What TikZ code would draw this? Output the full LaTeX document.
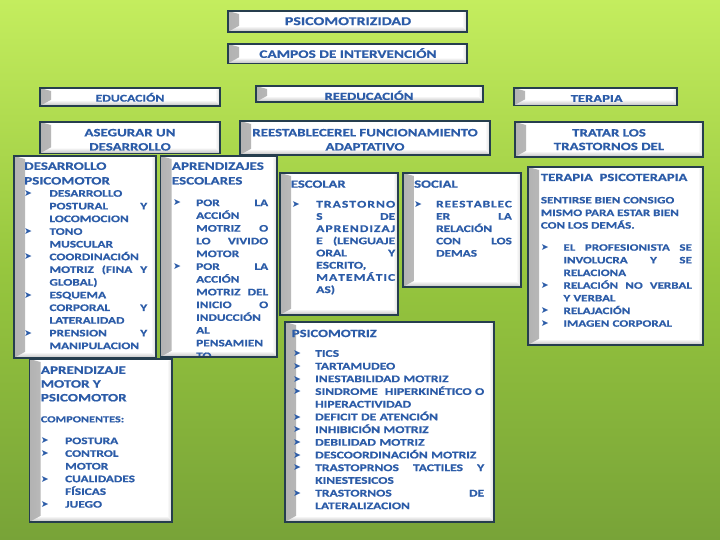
\documentclass[tikz,border=0pt]{standalone}
\usepackage{fontspec}
\newfontfamily\cfont{Carlito}[FakeStretch=1.33, BoldFeatures={FakeBold=0.8}]
\newfontfamily\dvfont{DejaVu Sans}
\definecolor{txt}{RGB}{44,92,168}
\definecolor{bdr}{RGB}{38,62,78}
\definecolor{bgtop}{RGB}{196,237,94}
\definecolor{bgmid}{RGB}{150,198,62}
\definecolor{bgbot}{RGB}{120,163,56}
\newlength{\bw}
\newcommand{\bul}{\makebox[\bw][l]{\raisebox{0.2pt}{\dvfont\fontsize{9.5}{9.5}\selectfont\char"27A4}}}
\newcommand{\ind}{\hspace*{\bw}}
\newcommand{\fl}{\rule{0pt}{1em}}
\newcommand{\lf}[2]{\cfont\bfseries\fontsize{#1}{#2}\selectfont}
\tikzset{
  bbox/.style={draw=bdr, line width=1.2pt, fill=white, inner sep=0pt,
    path picture={
      \shade[left color=black!30, right color=white]
        (path picture bounding box.south west) -- (path picture bounding box.north west)
        -- ([shift={(11pt,-3pt)}]path picture bounding box.north west)
        -- ([shift={(11pt,3pt)}]path picture bounding box.south west) -- cycle;
      \shade[right color=black!14, left color=white]
        (path picture bounding box.south east) -- (path picture bounding box.north east)
        -- ([shift={(-5pt,-3pt)}]path picture bounding box.north east)
        -- ([shift={(-5pt,6pt)}]path picture bounding box.south east) -- cycle;
      \shade[bottom color=black!25, top color=white]
        (path picture bounding box.south west) -- (path picture bounding box.south east)
        -- ([shift={(-5pt,6pt)}]path picture bounding box.south east)
        -- ([shift={(11pt,6pt)}]path picture bounding box.south west) -- cycle;
    }},
  tnode/.style={inner sep=0pt, text=txt},
  mtext/.style={tnode, anchor=north west, align=left},
}
\newcommand{\bx}[6]{\node[bbox, minimum width={(#5-#3)*1pt}, minimum height={(#6-#4)*1pt}] (#2) at ({(#3+#5)/2},{(#4+#6)/2}) {};}
\begin{document}
\begin{tikzpicture}[x=1pt,y=-1pt]
\useasboundingbox (0,0) rectangle (720,540);
\shade[top color=bgtop, bottom color=bgbot, middle color=bgmid] (0,0) rectangle (720,540);

% top row
\bx{}{psico}{228}{11}{467}{32}
\node[tnode, anchor=base, font=\lf{12}{12}] (psicoT) at (348,25.1) {PSICOMOTRIZIDAD};
\bx{}{campos}{228}{44}{467}{63.5}
\node[tnode, anchor=base, font=\lf{11.5}{11.5}] (camposT) at (348,57.9) {CAMPOS DE INTERVENCIÓN};

\bx{}{educ}{40}{88}{220}{106}
\node[tnode, anchor=base, font=\lf{10.3}{10.3}] (educT) at (130,101.6) {EDUCACIÓN};
\bx{}{reed}{256}{86}{483}{102}
\begin{scope}
\clip (257,87) rectangle (482,99.6);
\node[tnode, anchor=base, font=\lf{11}{11}] (reedT) at (369,100) {REEDUCACIÓN};
\end{scope}
\bx{}{ter}{514}{88}{677}{105.5}
\begin{scope}
\clip (515,89) rectangle (676,101.5);
\node[tnode, anchor=base, font=\lf{11}{11}] (terT) at (596.7,102.2) {TERAPIA};
\end{scope}

\bx{}{aseg}{40}{122}{220}{153.5}
\node[tnode, anchor=north, align=center, font=\lf{11.2}{14.2}] (asegT) at (130,124.9) {\fl ASEGURAR UN\\DESARROLLO};
\bx{}{reest}{240}{121}{490}{155}
\node[tnode, anchor=north, align=center, font=\lf{11.2}{14.2}] (reestT) at (365,124.9) {\fl REESTABLECEREL FUNCIONAMIENTO\\ADAPTATIVO};
\bx{}{trat}{515}{122}{703}{157}
\node[tnode, anchor=north, align=center, font=\lf{11.2}{13.6}] (tratT) at (609,125.1) {\fl TRATAR LOS\\TRASTORNOS DEL};

% DESARROLLO PSICOMOTOR
\bx{}{desa}{14}{156}{156}{358}
\node[mtext, font=\lf{11.3}{14.7}] (desaH) at (24,158.3) {\fl DESARROLLO\\PSICOMOTOR};
\node[mtext, text width=123pt, font=\lf{10}{12.7}] (desaL) at (24,186.5) {\setlength{\bw}{25.3pt}\fl
\bul DESARROLLO\\
\ind POSTURAL\hfill Y\\
\ind LOCOMOCION\\
\bul TONO\\
\ind MUSCULAR\\
\bul COORDINACIÓN\\
\ind MOTRIZ\hfill (FINA\hfill Y\\
\ind GLOBAL)\\
\bul ESQUEMA\\
\ind CORPORAL\hfill Y\\
\ind LATERALIDAD\\
\bul PRENSION\hfill Y\\
\ind MANIPULACION};

% APRENDIZAJES ESCOLARES
\bx{}{apre}{160.5}{156}{277}{357}
\begin{scope}
\clip (161.5,157) rectangle (276,355.8);
\node[mtext, font=\lf{11.3}{14.7}] (apreH) at (171.7,158.3) {\fl APRENDIZAJES\\ESCOLARES};
\node[mtext, text width=95pt, font=\lf{10}{12.75}] (apreL) at (173,195.9) {\setlength{\bw}{23pt}\fl
\bul POR\hfill LA\\
\ind ACCIÓN\\
\ind MOTRIZ\hfill O\\
\ind LO\hfill VIVIDO\\
\ind MOTOR\\
\bul POR\hfill LA\\
\ind ACCIÓN\\
\ind MOTRIZ\hfill DEL\\
\ind INICIO\hfill O\\
\ind INDUCCIÓN\\
\ind AL\\
\ind PENSAMIEN\\
\ind TO};
\end{scope}

% ESCOLAR
\bx{}{esco}{280}{173}{398}{315}
\node[mtext, font=\lf{11}{11}] (escoH) at (290.7,176.5) {\fl ESCOLAR};
\node[mtext, text width=103.3pt, font=\lf{10.2}{12.2}] (escoL) at (291.7,197.2) {\setlength{\bw}{24.3pt}\fl
\bul T\hfill R\hfill A\hfill S\hfill T\hfill O\hfill R\hfill N\hfill O\\
\ind S\hfill DE\\
\ind A\hfill P\hfill R\hfill E\hfill N\hfill D\hfill I\hfill Z\hfill A\hfill J\\
\ind E\hfill (LENGUAJE\\
\ind ORAL\hfill Y\\
\ind ESCRITO,\\
\ind M\hfill A\hfill T\hfill E\hfill M\hfill Á\hfill T\hfill I\hfill C\\
\ind AS)};

% SOCIAL
\bx{}{soc}{403}{173}{521}{287}
\node[mtext, font=\lf{11}{11}] (socH) at (414,176.5) {\fl SOCIAL};
\node[mtext, text width=97.7pt, font=\lf{10}{12.3}] (socL) at (414,197.2) {\setlength{\bw}{22pt}\fl
\bul R\hfill E\hfill E\hfill S\hfill T\hfill A\hfill B\hfill L\hfill E\hfill C\\
\ind ER\hfill LA\\
\ind RELACIÓN\\
\ind CON\hfill LOS\\
\ind DEMAS};

% TERAPIA PSICOTERAPIA
\bx{}{tp}{528}{167}{703}{345}
\node[mtext, font=\lf{11}{11}] (tpH) at (540.7,169.8) {\fl TERAPIA~ PSICOTERAPIA};
\node[mtext, font=\lf{9.8}{12.6}] (tpP) at (540.7,193.4) {\fl SENTIRSE BIEN CONSIGO\\MISMO PARA ESTAR BIEN\\CON LOS DEMÁS.};
\node[mtext, text width=151pt, font=\lf{9.8}{12.67}] (tpL) at (540.7,240.7) {\setlength{\bw}{22.6pt}\fl
\bul EL\hfill PROFESIONISTA\hfill SE\\
\ind INVOLUCRA\hfill Y\hfill SE\\
\ind RELACIONA\\
\bul RELACIÓN\hfill NO\hfill VERBAL\\
\ind Y VERBAL\\
\bul RELAJACIÓN\\
\bul IMAGEN CORPORAL};

% PSICOMOTRIZ
\bx{}{pm}{285}{322}{494}{522}
\node[mtext, font=\lf{11}{11}] (pmH) at (291.7,325.8) {\fl PSICOMOTRIZ};
\node[mtext, text width=191pt, font=\lf{10.2}{12.7}] (pmL) at (293,346.4) {\setlength{\bw}{22pt}\fl
\bul TICS\\
\bul TARTAMUDEO\\
\bul INESTABILIDAD MOTRIZ\\
\bul SINDROME\hfill HIPERKINÉTICO O\\
\ind HIPERACTIVIDAD\\
\bul DEFICIT DE ATENCIÓN\\
\bul INHIBICIÓN MOTRIZ\\
\bul DEBILIDAD MOTRIZ\\
\bul DESCOORDINACIÓN MOTRIZ\\
\bul TRASTOPRNOS\hfill TACTILES\hfill Y\\
\ind KINESTESICOS\\
\bul TRASTORNOS\hfill DE\\
\ind LATERALIZACION};

% APRENDIZAJE MOTOR Y PSICOMOTOR
\bx{}{am}{29.5}{359}{172}{522}
\node[mtext, font=\lf{11.3}{13.8}] (amH) at (40.7,362.3) {\fl APRENDIZAJE\\MOTOR Y\\PSICOMOTOR};
\node[tnode, anchor=base west, font=\lf{9.2}{9.2}] (amC) at (40.7,422.3) {COMPONENTES:};
\node[mtext, text width=125pt, font=\lf{10}{12.7}] (amL) at (40.7,433.9) {\setlength{\bw}{24.3pt}\fl
\bul POSTURA\\
\bul CONTROL\\
\ind MOTOR\\
\bul CUALIDADES\\
\ind FÍSICAS\\
\bul JUEGO};
\end{tikzpicture}
\end{document}
